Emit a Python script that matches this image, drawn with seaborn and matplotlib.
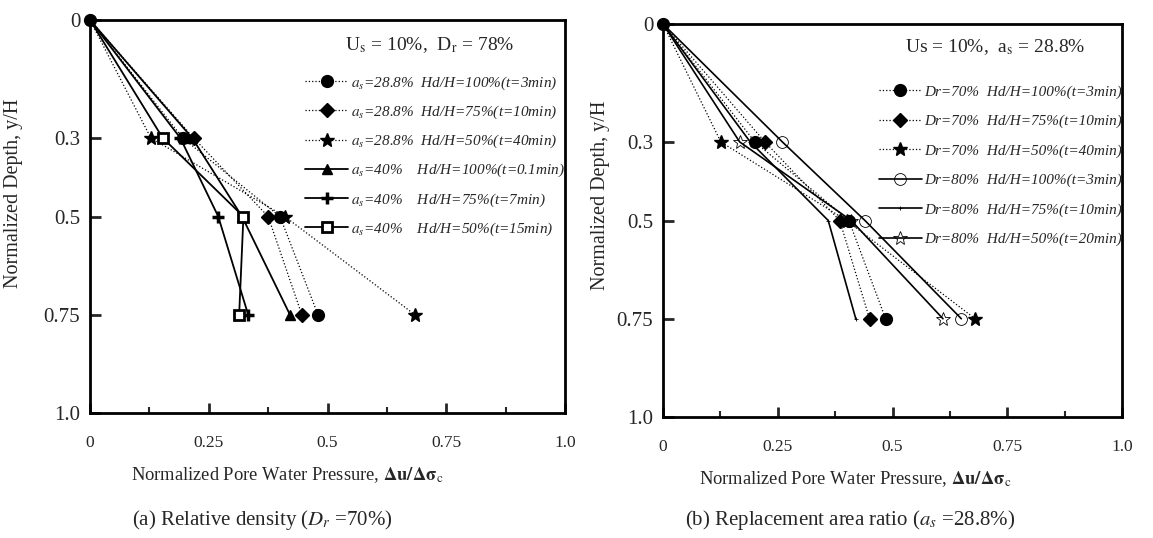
import numpy as np
import matplotlib
matplotlib.use("Agg")
import matplotlib.pyplot as plt
import seaborn as sns

# ── Data ─────────────────────────────────────────────────────────────────────
depth = [0, 0.3, 0.5, 0.75]

# (a) Dr = 70 %
a288_100 = [0, 0.195, 0.40, 0.48]
a288_75 = [0, 0.218, 0.375, 0.446]
a288_50 = [0, 0.128, 0.41, 0.684]
a40_100 = [0, 0.215, 0.32, 0.421]
a40_75 = [0, 0.19, 0.27, 0.333]
a40_50 = [0, 0.153, 0.323, 0.314]

labels_a = [
    r"$a_s$=28.8%  Hd/H=100%(t=3min)",
    r"$a_s$=28.8%  Hd/H=75%(t=10min)",
    r"$a_s$=28.8%  Hd/H=50%(t=40min)",
    r"$a_s$=40%    Hd/H=100%(t=0.1min)",
    r"$a_s$=40%    Hd/H=75%(t=7min)",
    r"$a_s$=40%    Hd/H=50%(t=15min)",
]

# (b) as = 28.8 %
dr70_100 = [0, 0.20, 0.405, 0.485]
dr70_75 = [0, 0.222, 0.385, 0.45]
dr70_50 = [0, 0.126, 0.40, 0.68]
dr80_100 = [0, 0.26, 0.44, 0.65]
dr80_75 = [0, 0.19, 0.36, 0.42]
dr80_50 = [0, 0.167, 0.41, 0.61]

labels_b = [
    "Dr=70%  Hd/H=100%(t=3min)",
    "Dr=70%  Hd/H=75%(t=10min)",
    "Dr=70%  Hd/H=50%(t=40min)",
    "Dr=80%  Hd/H=100%(t=3min)",
    "Dr=80%  Hd/H=75%(t=10min)",
    "Dr=80%  Hd/H=50%(t=20min)",
]

xticks = [0, 0.25, 0.5, 0.75, 1.0]
xticklabels = ["0", "0.25", "0.5", "0.75", "1.0"]
yticks = [0, 0.3, 0.5, 0.75, 1.0]
yticklabels = ["0", "0.3", "0.5", "0.75", "1.0"]

# ── Style ────────────────────────────────────────────────────────────────────
sns.set_style("ticks")
plt.rcParams["font.family"] = ["Liberation Serif", "DejaVu Serif"]
plt.rcParams["mathtext.fontset"] = "stix"

# marker / line style per series
styles_a = [
    dict(marker="o", markersize=8.5, markerfacecolor="k", linestyle=":", linewidth=0.9),
    dict(marker="D", markersize=7, markerfacecolor="k", linestyle=":", linewidth=0.9),
    dict(marker="*", markersize=10, markerfacecolor="k", linestyle=":", linewidth=0.9),
    dict(marker="^", markersize=6.5, markerfacecolor="k", linestyle="-", linewidth=1.3),
    dict(marker="+", markersize=9, markerfacecolor="k", markeredgewidth=2.5, linestyle="-", linewidth=1.3),
    dict(marker="s", markersize=7, markerfacecolor="white", markeredgewidth=2, linestyle="-", linewidth=1.3),
]
styles_b = [
    dict(marker="o", markersize=8.5, markerfacecolor="k", linestyle=":", linewidth=0.9),
    dict(marker="D", markersize=7, markerfacecolor="k", linestyle=":", linewidth=0.9),
    dict(marker="*", markersize=10, markerfacecolor="k", linestyle=":", linewidth=0.9),
    dict(marker="o", markersize=8.5, markerfacecolor="none", markeredgewidth=0.6, linestyle="-", linewidth=1.2),
    dict(marker="+", markersize=3, markerfacecolor="k", markeredgewidth=0.6, linestyle="-", linewidth=1.2),
    dict(marker="*", markersize=10, markerfacecolor="none", markeredgewidth=0.6, linestyle="-", linewidth=1.2),
]


def draw_panel(ax, series, labels, styles, header, leg_anchor, spacing):
    for i, (xs, lab, st) in enumerate(zip(series, labels, styles)):
        kws = dict(color="k", markeredgecolor="k", markeredgewidth=1.0)
        kws.update(st)
        if i > 0:
            kws["markevery"] = [1, 2, 3]
        sns.lineplot(x=xs, y=depth, ax=ax, sort=False, estimator=None,
                     label=lab, clip_on=False, zorder=3, **kws)

    ax.set_xlim(0, 1.0)
    ax.set_ylim(1.0, 0)
    ax.set_xticks(xticks)
    ax.set_xticklabels(xticklabels, fontsize=12.5)
    ax.set_xticks([0.125, 0.375, 0.625, 0.875], minor=True)
    ax.set_yticks(yticks)
    ax.set_yticklabels(yticklabels, fontsize=15)
    ax.tick_params(axis="x", which="major", direction="in", length=7, width=2, pad=16)
    ax.tick_params(axis="x", which="minor", direction="in", length=4, width=1.5)
    ax.tick_params(axis="y", direction="in", length=8, width=2, pad=7)
    for sp in ax.spines.values():
        sp.set_visible(True)
        sp.set_linewidth(2)
        sp.set_color("k")

    ax.set_ylabel("Normalized Depth, y/H", fontsize=14.5)
    ax.set_xlabel(r"Normalized Pore Water Pressure, $\mathbf{\Delta u/\Delta\sigma}_\mathrm{c}$",
                  fontsize=13.3)

    ax.text(header[1], header[2], header[0], transform=ax.transAxes,
            ha="center", va="center", fontsize=14)

    handles, labs = ax.get_legend_handles_labels()
    leg = ax.legend(handles, labs, loc="upper left", bbox_to_anchor=leg_anchor,
                    frameon=False, handlelength=2.8, handletextpad=0.2,
                    labelspacing=spacing, borderpad=0, borderaxespad=0,
                    prop=dict(family="Liberation Serif", style="italic", size=11))
    return leg


fig = plt.figure(figsize=(11.53, 5.38), dpi=100)
ax1 = fig.add_axes([90 / 1153, 1 - 413 / 538, 475 / 1153, 393 / 538])
ax2 = fig.add_axes([663 / 1153, 1 - 417 / 538, 459 / 1153, 393 / 538])

draw_panel(ax1, [a288_100, a288_75, a288_50, a40_100, a40_75, a40_50], labels_a, styles_a,
           (r"U$_\mathrm{s}$ = 10%,  D$_\mathrm{r}$ = 78%", 0.716, 0.936), (0.453, 0.862), 0.78)
draw_panel(ax2, [dr70_100, dr70_75, dr70_50, dr80_100, dr80_75, dr80_50], labels_b, styles_b,
           (r"Us = 10%,  a$_\mathrm{s}$ = 28.8%", 0.723, 0.94), (0.47, 0.845), 1.02)

ax1.xaxis.set_label_coords(0.415, -0.133)
ax1.yaxis.set_label_coords(-0.141, 0.56)
ax2.xaxis.set_label_coords(0.418, -0.133)
ax2.yaxis.set_label_coords(-0.115, 0.565)

fig.text(262 / 1153, 1 - 520 / 538, r"(a) Relative density ($D_r$ =70%)",
         ha="center", va="center", fontsize=15)
fig.text(850 / 1153, 1 - 520 / 538, r"(b) Replacement area ratio ($a_s$ =28.8%)",
         ha="center", va="center", fontsize=15)

fig.savefig("out.png", dpi=100)
